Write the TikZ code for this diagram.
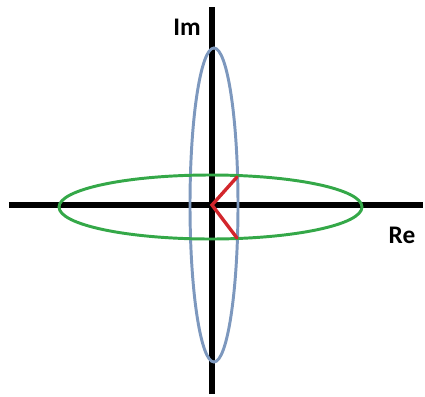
\documentclass[tikz,border=0pt]{standalone}
\usepackage{fontspec}
\setmainfont{Carlito}
\usepackage{xcolor}
\usetikzlibrary{positioning}

\definecolor{ellblue}{RGB}{125,152,190}
\definecolor{ellgreen}{RGB}{52,168,72}
\definecolor{vecred}{RGB}{210,38,44}

\tikzset{
  axisline/.style={line width=4.2pt, black},
  ellline/.style={line width=2.1pt},
  vecline/.style={line width=2.4pt, vecred, line cap=round},
  axislabel/.style={font=\fontsize{18}{20}\selectfont\bfseries, inner sep=0pt}
}

\begin{document}
\begin{tikzpicture}[x=0.025cm, y=0.025cm]
  \useasboundingbox (-212,-191) rectangle (213,205);
  % axes
  \coordinate (reL) at (-203,0);
  \coordinate (reR) at (211,0);
  \coordinate (imB) at (0,-189);
  \coordinate (imT) at (0,198);
  \coordinate (O) at (0,0);
  \draw[axisline] (reL) -- (reR);
  \draw[axisline] (imB) -- (imT);
  \node[axislabel] (im) at (-25,178) {Im};
  \node[axislabel] (re) at (190,-30) {Re};
  % ellipses
  \draw[ellline, ellblue] (2,0) ellipse [x radius=24, y radius=157];
  \draw[ellline, ellgreen] (-1.5,-2) ellipse [x radius=151.5, y radius=32];
  % vectors
  \coordinate (v1) at (25,28);
  \coordinate (v2) at (25,-33);
  \draw[vecline] (v1) -- (O) -- (v2);
\end{tikzpicture}
\end{document}
